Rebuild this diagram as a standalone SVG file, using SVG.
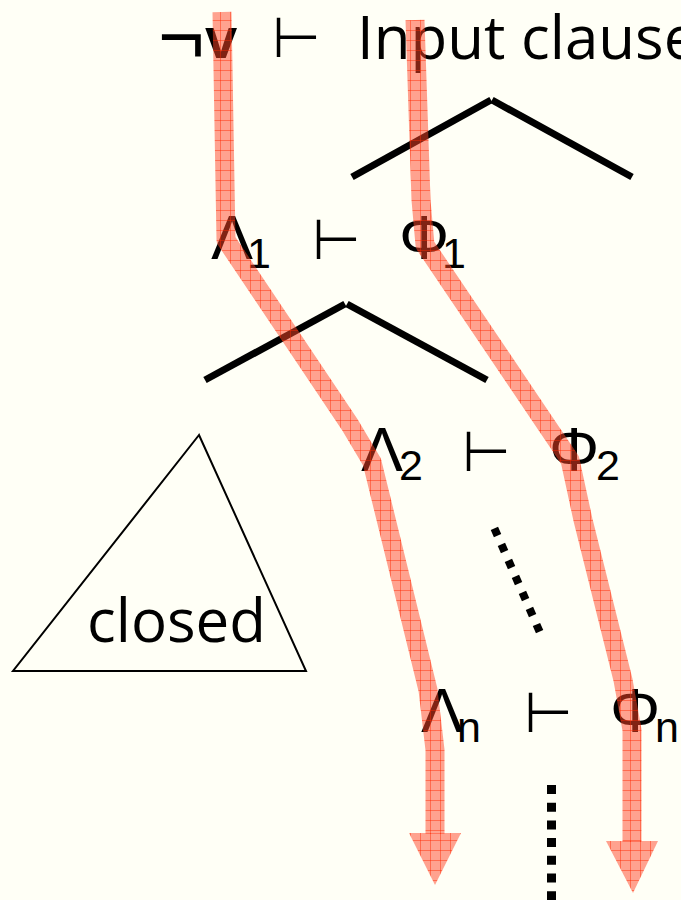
<svg xmlns="http://www.w3.org/2000/svg" width="681" height="900" viewBox="0 0 681 900">
<defs>
<pattern id="grid" patternUnits="userSpaceOnUse" width="10" height="10">
<rect width="10" height="10" fill="rgb(255,70,40)" fill-opacity="0.5"/>
<path d="M0 0.5H10M0.5 0V10" stroke="rgb(255,40,0)" stroke-opacity="0.45" stroke-width="1" fill="none"/>
</pattern>
<style>
.sym{font-family:"Liberation Sans",Arial,sans-serif;fill:#000}
.big{font-size:63px}
.sub{font-size:43px}
.turn{font-family:"DejaVu Sans",sans-serif;font-size:56px;fill:#000}
.txt{font-family:"Open Sans","Noto Sans",sans-serif;font-size:60px;fill:#000}
.caret{stroke:#000;stroke-width:7;fill:none;stroke-linecap:butt}
.dots{stroke:#000;fill:none}
.flow{stroke:url(#grid);stroke-width:19;fill:none;stroke-linejoin:round;stroke-linecap:butt}
.head{fill:url(#grid)}
</style>
</defs>
<rect width="681" height="900" fill="#FFFFF6"/>

<g id="top-sequent">
<text class="sym" x="158" y="64" font-size="80" font-weight="300">¬</text>
<text class="sym" x="205" y="58" font-size="58" font-weight="bold">v</text>
<text class="turn" x="272" y="57">⊢</text>
<text class="txt" x="357" y="59">Input clause</text>
</g>

<g id="carets">
<line class="caret" x1="352" y1="177" x2="491" y2="100"/>
<line class="caret" x1="492" y1="100" x2="632" y2="177"/>
<line class="caret" x1="205" y1="380" x2="345" y2="304"/>
<line class="caret" x1="347" y1="304" x2="487" y2="380"/>
</g>

<g id="sequent-1">
<text class="sym big" x="211" y="259">Λ</text>
<text class="sym sub" x="247" y="268">1</text>
<text class="turn" x="312" y="259">⊢</text>
<text class="sym big" x="399" y="259">Φ</text>
<text class="sym sub" x="442" y="268">1</text>
</g>

<g id="sequent-2">
<text class="sym big" x="361" y="471">Λ</text>
<text class="sym sub" x="399" y="480">2</text>
<text class="turn" x="462" y="471">⊢</text>
<text class="sym big" x="549" y="471">Φ</text>
<text class="sym sub" x="596" y="480">2</text>
</g>

<g id="sequent-n">
<text class="sym big" x="421" y="732">Λ</text>
<text class="sym sub" x="457" y="742">n</text>
<text class="turn" x="524" y="732">⊢</text>
<text class="sym big" x="610" y="732">Φ</text>
<text class="sym sub" x="655" y="742">n</text>
</g>

<g id="closed-tree">
<polygon points="199,435 13,671 306,671" fill="none" stroke="#000" stroke-width="2"/>
<text class="txt" x="87" y="642">closed</text>
</g>

<g id="dotted">
<line class="dots" x1="494.4" y1="528.3" x2="539.6" y2="631.7" stroke-width="8" stroke-dasharray="7.9 9.6"/>
<line class="dots" x1="551.5" y1="785" x2="551.5" y2="900" stroke-width="9" stroke-dasharray="9 8.7"/>
</g>

<g id="connectors">
<polyline class="flow" points="222,12 226,240 350,425 372,462 428,690 435,750 435,834"/>
<polygon class="head" points="409,833 461,833 435,885"/>
<polyline class="flow" points="415,20 421,200 425,245 543,420 570,460 583,520 623,680 632,730 632,842"/>
<polygon class="head" points="606,841 658,841 633,893"/>
</g>
</svg>
